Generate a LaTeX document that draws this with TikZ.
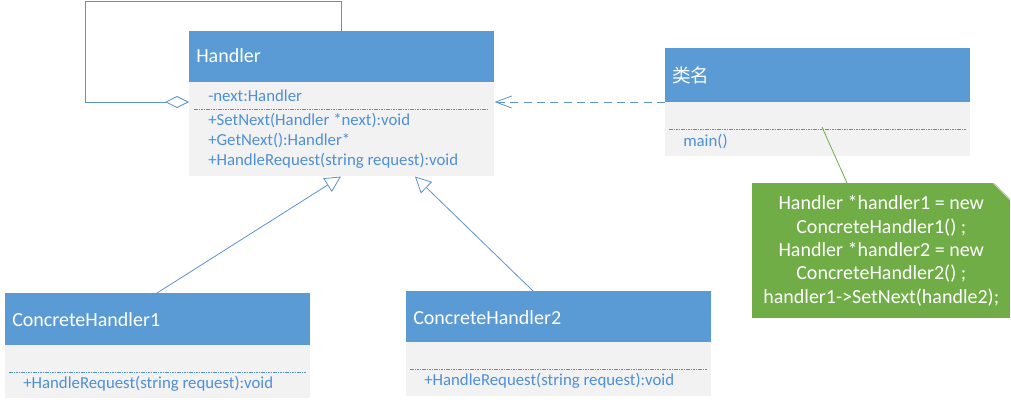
\documentclass[tikz,border=0pt]{standalone}
\usepackage{fontspec}
\setmainfont{Carlito}
\newfontfamily\cjk{Noto Sans CJK SC}
\usetikzlibrary{arrows.meta}
\definecolor{hblue}{HTML}{5B9BD5}
\definecolor{bgray}{HTML}{F2F2F2}
\definecolor{tblue}{HTML}{4F8FD6}
\definecolor{lblue}{HTML}{5B92CF}
\definecolor{ngreen}{HTML}{70AD47}
\begin{document}
\begin{tikzpicture}[x=0.75pt,y=-0.75pt,
  head/.style={fill=hblue, draw=none, anchor=north west, inner sep=0, minimum width=305*0.75pt},
  body/.style={fill=bgray, draw=none, anchor=north west, inner sep=0, minimum width=305*0.75pt},
  title/.style={anchor=west, inner sep=0, text=white, font=\fontsize{15}{18}\selectfont},
  member/.style={anchor=west, inner sep=0, text=tblue, font=\fontsize{12.6}{15}\selectfont},
  sep/.style={draw=tblue, line width=0.5pt, dash pattern=on 1.2pt off 0.6pt},
  conn/.style={draw=lblue, line width=0.6pt},
  agg/.style={conn, -{Diamond[open, length=18pt, width=9pt, fill=white]}},
  inherit/.style={conn, -{Triangle[open, length=12pt, width=12pt, fill=white]}},
  dep/.style={conn, dash pattern=on 6pt off 4pt, -{Straight Barb[length=12pt, width=9pt]}},
  notebox/.style={fill=ngreen, draw=none, anchor=north west, inner sep=0,
    minimum width=258*0.75pt, minimum height=135*0.75pt, text=white, align=center,
    font=\fontsize{15}{17.6}\selectfont}
]
\useasboundingbox (0,0) rectangle (1011,410);

% Handler
\node[head, minimum height=51*0.75pt] (hh) at (189,31) {};
\node[body, minimum height=94*0.75pt] (hb) at (189,82) {};
\node[title] (ht) at (196,56) {Handler};
\node[member] (hm1) at (208,96) {-next:Handler};
\draw[sep] (194,109.5) -- (489,109.5);
\node[member] (hm2) at (208,121) {+SetNext(Handler *next):void};
\node[member] (hm3) at (208,141) {+GetNext():Handler*};
\node[member] (hm4) at (208,161) {+HandleRequest(string request):void};

% class name
\node[head, minimum height=54*0.75pt] (ch) at (665,48) {};
\node[body, minimum height=54*0.75pt] (cb) at (665,102) {};
\node[title, font=\cjk\fontsize{14}{18}\selectfont] (ct) at (672,75) {类名};
\draw[sep] (669,129) -- (966,129);
\node[member] (cm1) at (683,142) {main()};

% ConcreteHandler1
\node[head, minimum height=52*0.75pt] (c1h) at (5,293) {};
\node[body, minimum height=53*0.75pt] (c1b) at (5,345) {};
\node[title] (c1t) at (12,320) {ConcreteHandler1};
\draw[sep] (9,372) -- (306,372);
\node[member] (c1m) at (23,384) {+HandleRequest(string request):void};

% ConcreteHandler2
\node[head, minimum height=51*0.75pt] (c2h) at (406,291) {};
\node[body, minimum height=54*0.75pt] (c2b) at (406,342) {};
\node[title] (c2t) at (413,318) {ConcreteHandler2};
\draw[sep] (410,369) -- (707,369);
\node[member] (c2m) at (424,381) {+HandleRequest(string request):void};

% note
\node[notebox] (nt) at (752,183) {Handler *handler1 = new\\ConcreteHandler1() ;\\Handler *handler2 = new\\ConcreteHandler2() ;\\handler1->SetNext(handle2);};
\fill[white] (993,182) -- (1012,182) -- (1012,201) -- cycle;
\draw[ngreen!35!white, line width=0.5pt] (993,183) -- (1010,200);

% connectors
\draw[agg] (hh.north -| 341,0) -- (341,1) -- (85,1) -- (85,102) -- (hb.west |- 0,102);
\draw[dep] (cb.north west) -- (hb.east |- 0,102);
\draw[inherit] (c1h.north -| 157,0) -- (hb.south -| 341,0);
\draw[inherit] (c2h.north -| 533,0) -- (hb.south -| 415,0);
\coordinate (ca) at (822,127);
\draw[ngreen, line width=0.6pt] (ca) -- (nt.north -| 847,0);
\end{tikzpicture}
\end{document}
